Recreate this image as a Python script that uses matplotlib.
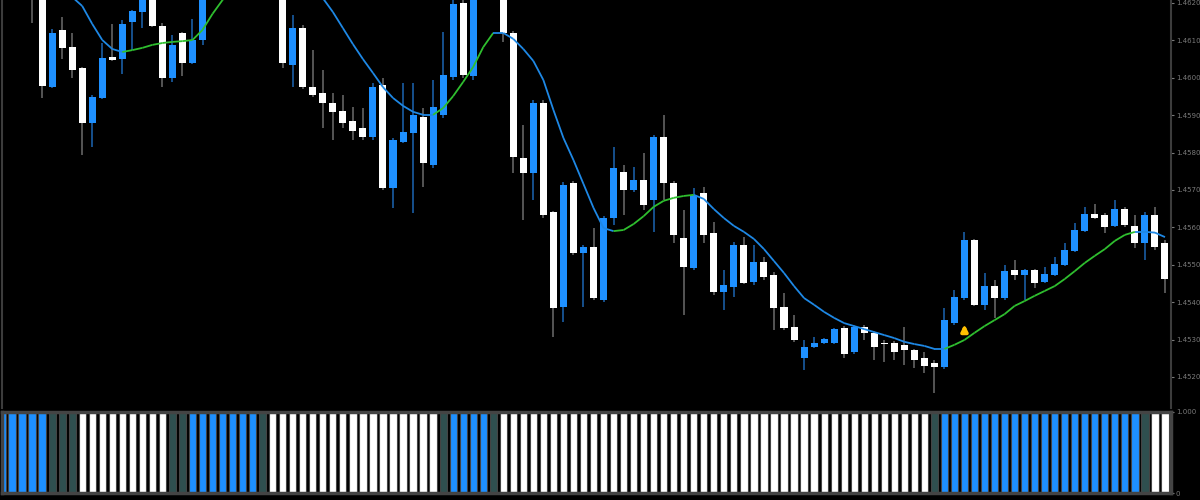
import numpy as np
import matplotlib
matplotlib.use("Agg")
import matplotlib.pyplot as plt
from matplotlib.collections import LineCollection

# OHLC (1 candle per bar, oldest first)
opens = [1.46280, 1.46300, 1.46350, 1.46370, 1.46260, 1.45975, 1.46128, 1.46082, 1.46026, 1.45879,
         1.45946, 1.46056, 1.46050, 1.46149, 1.46176, 1.46220, 1.46139, 1.45999, 1.46120, 1.46040,
         1.46101, 1.46225, 1.46280, 1.46340, 1.46310, 1.46380, 1.46340, 1.46280, 1.46235, 1.46034,
         1.46133, 1.45975, 1.45959, 1.45933, 1.45911, 1.45884, 1.45866, 1.45842, 1.45981, 1.45705,
         1.45828, 1.45852, 1.45895, 1.45767, 1.45901, 1.46002, 1.46200, 1.46005, 1.46230, 1.46280,
         1.46240, 1.46120, 1.45786, 1.45745, 1.45933, 1.45641, 1.45387, 1.45719, 1.45532, 1.45548,
         1.45406, 1.45625, 1.45748, 1.45700, 1.45727, 1.45673, 1.45842, 1.45719, 1.45572, 1.45491,
         1.45692, 1.45585, 1.45427, 1.45441, 1.45553, 1.45454, 1.45507, 1.45473, 1.45387, 1.45334,
         1.45251, 1.45280, 1.45291, 1.45291, 1.45331, 1.45267, 1.45334, 1.45318, 1.45291, 1.45291,
         1.45286, 1.45272, 1.45251, 1.45237, 1.45227, 1.45344, 1.45411, 1.45566, 1.45393, 1.45443,
         1.45411, 1.45486, 1.45473, 1.45486, 1.45454, 1.45473, 1.45499, 1.45537, 1.45590, 1.45636,
         1.45633, 1.45604, 1.45649, 1.45604, 1.45558, 1.45633, 1.45558]
highs = [1.46340, 1.46380, 1.46400, 1.46410, 1.46290, 1.46130, 1.46163, 1.46120, 1.46029, 1.45954,
         1.46093, 1.46144, 1.46155, 1.46180, 1.46225, 1.46230, 1.46147, 1.46114, 1.46122, 1.46157,
         1.46240, 1.46300, 1.46360, 1.46380, 1.46400, 1.46420, 1.46360, 1.46300, 1.46250, 1.46168,
         1.46140, 1.46074, 1.46021, 1.45959, 1.45954, 1.45922, 1.45920, 1.45986, 1.45999, 1.45840,
         1.45986, 1.45986, 1.45919, 1.45994, 1.46122, 1.46210, 1.46215, 1.46260, 1.46300, 1.46310,
         1.46260, 1.46125, 1.45874, 1.45940, 1.45940, 1.45645, 1.45720, 1.45725, 1.45552, 1.45598,
         1.45630, 1.45815, 1.45767, 1.45761, 1.45799, 1.45848, 1.45901, 1.45725, 1.45647, 1.45705,
         1.45708, 1.45614, 1.45486, 1.45560, 1.45574, 1.45553, 1.45521, 1.45480, 1.45425, 1.45366,
         1.45299, 1.45307, 1.45305, 1.45332, 1.45335, 1.45340, 1.45339, 1.45322, 1.45299, 1.45296,
         1.45334, 1.45276, 1.45267, 1.45245, 1.45384, 1.45433, 1.45588, 1.45570, 1.45478, 1.45459,
         1.45499, 1.45513, 1.45490, 1.45490, 1.45494, 1.45521, 1.45558, 1.45612, 1.45655, 1.45663,
         1.45638, 1.45673, 1.45655, 1.45633, 1.45640, 1.45655, 1.45565]
lows = [1.46240, 1.46270, 1.46290, 1.46147, 1.45946, 1.45973, 1.46050, 1.45999, 1.45794, 1.45815,
        1.45944, 1.46045, 1.46010, 1.46074, 1.46133, 1.46135, 1.45975, 1.45989, 1.46005, 1.46038,
        1.46088, 1.46215, 1.46260, 1.46290, 1.46300, 1.46320, 1.46260, 1.46225, 1.46026, 1.45975,
        1.45970, 1.45949, 1.45866, 1.45834, 1.45866, 1.45834, 1.45834, 1.45834, 1.45700, 1.45652,
        1.45826, 1.45639, 1.45708, 1.45759, 1.45893, 1.45994, 1.46000, 1.45995, 1.46215, 1.46220,
        1.46096, 1.45745, 1.45620, 1.45673, 1.45625, 1.45307, 1.45347, 1.45525, 1.45387, 1.45406,
        1.45400, 1.45606, 1.45633, 1.45695, 1.45647, 1.45588, 1.45673, 1.45558, 1.45366, 1.45485,
        1.45558, 1.45419, 1.45379, 1.45414, 1.45449, 1.45446, 1.45459, 1.45326, 1.45326, 1.45294,
        1.45219, 1.45278, 1.45288, 1.45288, 1.45251, 1.45262, 1.45299, 1.45245, 1.45240, 1.45245,
        1.45232, 1.45224, 1.45211, 1.45157, 1.45222, 1.45339, 1.45406, 1.45390, 1.45379, 1.45358,
        1.45406, 1.45459, 1.45406, 1.45438, 1.45451, 1.45470, 1.45496, 1.45535, 1.45588, 1.45622,
        1.45585, 1.45600, 1.45600, 1.45545, 1.45513, 1.45540, 1.45425]
closes = [1.46320, 1.46360, 1.46380, 1.46250, 1.45978, 1.46120, 1.46080, 1.46021, 1.45879, 1.45949,
          1.46053, 1.46048, 1.46144, 1.46179, 1.46215, 1.46139, 1.45999, 1.46088, 1.46040, 1.46101,
          1.46225, 1.46280, 1.46340, 1.46310, 1.46380, 1.46340, 1.46280, 1.46240, 1.46040, 1.46133,
          1.45975, 1.45954, 1.45933, 1.45909, 1.45879, 1.45858, 1.45842, 1.45975, 1.45705, 1.45834,
          1.45855, 1.45901, 1.45772, 1.45922, 1.46007, 1.46197, 1.46007, 1.46230, 1.46280, 1.46240,
          1.46120, 1.45788, 1.45745, 1.45933, 1.45633, 1.45384, 1.45713, 1.45532, 1.45548, 1.45411,
          1.45625, 1.45759, 1.45700, 1.45727, 1.45660, 1.45842, 1.45719, 1.45580, 1.45494, 1.45687,
          1.45580, 1.45427, 1.45446, 1.45553, 1.45451, 1.45507, 1.45467, 1.45384, 1.45331, 1.45299,
          1.45280, 1.45291, 1.45302, 1.45328, 1.45261, 1.45334, 1.45318, 1.45280, 1.45288, 1.45267,
          1.45272, 1.45245, 1.45229, 1.45227, 1.45352, 1.45414, 1.45566, 1.45393, 1.45443, 1.45411,
          1.45483, 1.45473, 1.45486, 1.45451, 1.45475, 1.45502, 1.45540, 1.45593, 1.45636, 1.45625,
          1.45601, 1.45649, 1.45606, 1.45558, 1.45633, 1.45548, 1.45462]

# moving average line as drawn on the chart
ma_line = [1.46368, 1.46347, 1.46326, 1.46302, 1.46280, 1.46259, 1.46237, 1.46216, 1.46192, 1.46144,
           1.46101, 1.46077, 1.46069, 1.46074, 1.46080, 1.46088, 1.46093, 1.46096, 1.46098, 1.46101,
           1.46128, 1.46171, 1.46208, 1.46240, 1.46261, 1.46275, 1.46280, 1.46283, 1.46280, 1.46272,
           1.46256, 1.46235, 1.46213, 1.46176, 1.46133, 1.46090, 1.46050, 1.46013, 1.45975, 1.45946,
           1.45925, 1.45909, 1.45901, 1.45901, 1.45919, 1.45951, 1.45989, 1.46029, 1.46082, 1.46120,
           1.46120, 1.46104, 1.46077, 1.46045, 1.45994, 1.45914, 1.45839, 1.45780, 1.45716, 1.45652,
           1.45598, 1.45590, 1.45593, 1.45609, 1.45630, 1.45655, 1.45671, 1.45679, 1.45684, 1.45687,
           1.45676, 1.45649, 1.45625, 1.45604, 1.45588, 1.45569, 1.45542, 1.45510, 1.45478, 1.45443,
           1.45411, 1.45393, 1.45374, 1.45358, 1.45344, 1.45336, 1.45328, 1.45320, 1.45312, 1.45304,
           1.45294, 1.45288, 1.45283, 1.45275, 1.45275, 1.45286, 1.45299, 1.45318, 1.45336, 1.45352,
           1.45368, 1.45390, 1.45403, 1.45417, 1.45430, 1.45443, 1.45462, 1.45483, 1.45505, 1.45524,
           1.45542, 1.45564, 1.45580, 1.45588, 1.45588, 1.45586, 1.45574]

# lower indicator: b = up (blue), t = neutral (dark teal), w = down (white)
trend_state = ("bbbbb" "ttt" "wwwwwwwww" "tt" "bbbbbbb" "t" "wwwwwwwwwwwwwwwww" "t" "bbbb" "t"
               "wwwwwwwwwwwwwwwwwwwwwwwwwwwwwwwwwwwwwwwwwww" "t" "bbbbbbbbbbbbbbbbbbbb" "t" "ww")

signal_idx = [96]
signal_price = [1.45312]

price_ticks = [1.4620, 1.4610, 1.4600, 1.4590, 1.4580, 1.4570, 1.4560, 1.4550, 1.4540, 1.4530, 1.4520]

BLUE = '#1e90ff'
WHITE = '#ffffff'
TEAL = '#2f4f4f'
GRID = '#3c3c3c'
TXT = '#7a7a7a'

o = np.array(opens)
h = np.array(highs)
l = np.array(lows)
c = np.array(closes)
x = np.arange(len(o))
up = c >= o

fig = plt.figure(figsize=(12, 5), dpi=100, facecolor='black')
ax = fig.add_axes([1.5 / 1200, 1 - 408 / 500, 1169.5 / 1200, 408 / 500], facecolor='black')
ax2 = fig.add_axes([1.5 / 1200, 1 - 493 / 500, 1169.5 / 1200, 81 / 500], facecolor='black')

# wicks
ax.vlines(x[up], l[up], h[up], color='#16508c', lw=1.4, zorder=1)
ax.vlines(x[~up], l[~up], h[~up], color='#555555', lw=1.4, zorder=1)
# bodies
body_lo = np.minimum(o, c)
body_h = np.maximum(np.abs(c - o), 0.00003)
ax.bar(x, body_h, bottom=body_lo, width=0.7, color=np.where(up, BLUE, WHITE), linewidth=0, zorder=2)

# moving average coloured by slope
ma = np.array(ma_line)
pts = np.column_stack([x, ma]).reshape(-1, 1, 2)
segs = np.concatenate([pts[:-1], pts[1:]], axis=1)
seg_cols = ['#2fbf2f' if d > 0 else '#1e88e5' for d in np.diff(ma)]
ax.add_collection(LineCollection(segs, colors=seg_cols, linewidths=1.3, zorder=3))

# signal arrow
for i, p in zip(signal_idx, signal_price):
    ax.annotate('', xy=(i, p + 0.00036), xytext=(i, p),
                arrowprops=dict(arrowstyle='-|>', color='#ffc000', lw=2.6, mutation_scale=9), zorder=4)

ax.set_xlim(-0.05, 116.6)
ax.set_ylim(1.45117, 1.46208)
ax.yaxis.tick_right()
ax.set_yticks(price_ticks)
ax.set_yticklabels(['%.4f' % t for t in price_ticks])
ax.tick_params(axis='y', colors=TXT, labelsize=5, length=2, width=0.8, pad=1.5)
ax.set_xticks([])
for s in ['top', 'bottom']:
    ax.spines[s].set_visible(False)
for s in ['left', 'right']:
    ax.spines[s].set_color(GRID)
    ax.spines[s].set_linewidth(1.5)

# lower panel
bar_cols = [{'b': BLUE, 't': TEAL, 'w': WHITE}[s] for s in trend_state]
ax2.bar(np.arange(len(trend_state)), 1.0, width=0.72, color=bar_cols, edgecolor='#444444', linewidth=0.8)
ax2.set_xlim(-0.05, 116.6)
ax2.set_ylim(0, 1.0)
ax2.yaxis.tick_right()
ax2.set_yticks([1.0, 0.0])
ax2.set_yticklabels(['1.000', '0'])
ax2.tick_params(axis='y', colors=TXT, labelsize=5, length=2, pad=1.5)
ax2.set_xticks([])
for s in ax2.spines.values():
    s.set_color('#444444')
    s.set_linewidth(2.5)

fig.savefig('out.png', dpi=100, facecolor='black')
